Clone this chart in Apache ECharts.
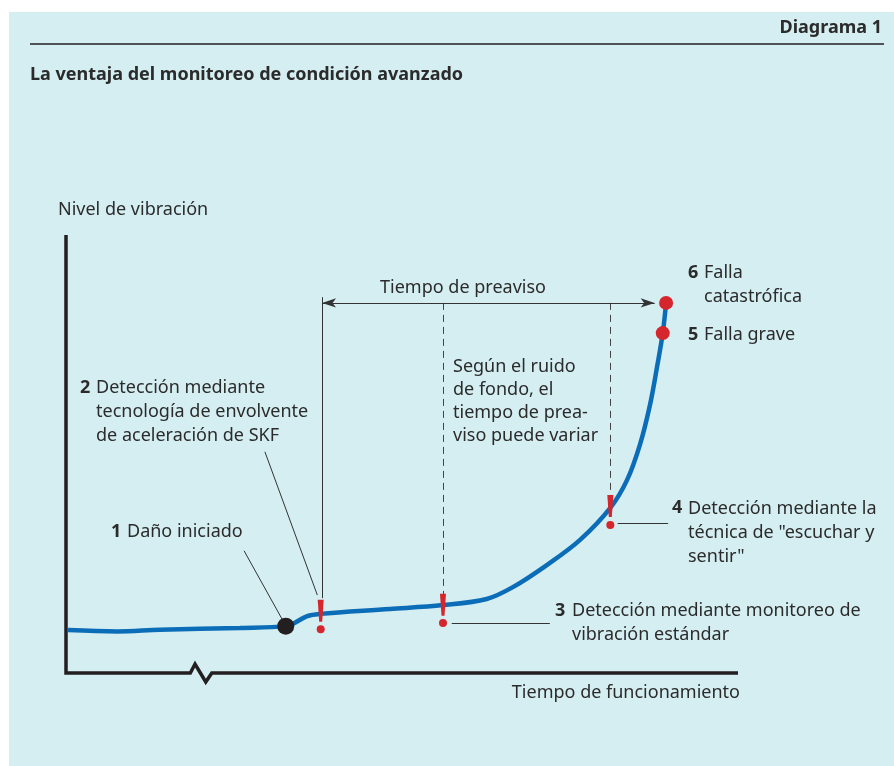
<!DOCTYPE html>
<html>
<head>
<meta charset="utf-8">
<script src="https://cdn.jsdelivr.net/npm/echarts@6/dist/echarts.min.js"></script>
<style>
  html, body { margin: 0; padding: 0; background: #fff; }
  #chart { width: 894px; height: 766px; }
</style>
</head>
<body>
<div id="chart"></div>
<script>
// curva de vibración: [tiempo, nivel] (escala 0-100)
const curva = [
  [0.3, 9.8], [7.6, 9.5], [14, 9.9], [25.9, 10.3], [32.7, 10.7],
  [35.9, 13.0], [37.8, 13.5], [48.2, 14.6], [56.1, 15.5], [62.6, 16.9],
  [66.5, 19.6], [71.6, 24.7], [76.5, 30.4], [81.0, 37.7], [83.5, 44.1],
  [85.4, 52.1], [86.9, 61.2], [88.0, 70.3], [88.8, 77.6], [89.3, 84.5]
];
// ejes con corte en el eje de tiempo
const ejes = [[0, 100], [0, 0], [18.5, 0], [19.2, 2.05], [20.8, -2.05], [21.7, 0], [100, 0]];
const danoIniciado = [[32.7, 10.7]];
const fallas = [[88.8, 77.6], [89.3, 84.5]];
// detecciones (!) : tiempo, nivel de la barra, nivel del punto
const detecciones = [[37.9, 14.2, 10.0], [56.1, 15.6, 11.4], [81.0, 38.1, 33.8]];
const preaviso = { inicio: 38.1, fin: 87.6, nivel: 84.5 };
const guias = [
  [[26.5, 27.9], [32.3, 11.9]],
  [[29.6, 50.5], [37.4, 17.8]],
  [[57.4, 11.4], [72.0, 11.4]],
  [[82.1, 34.2], [89.6, 34.2]]
];
const verticales = [
  { x: 38.1, y1: 85.8, y2: 17.1, dashed: false },
  { x: 56.1, y1: 84.5, y2: 17.8, dashed: true },
  { x: 81.0, y1: 84.5, y2: 40.9, dashed: true }
];

const FONT = 'Noto Sans';
const TXT = '#2b2b2b';

const chart = echarts.init(document.getElementById('chart'));

function texto(x, y, text, opts) {
  return {
    type: 'text', x: x, y: y, silent: true,
    style: Object.assign({
      text: text, fill: TXT, font: '18px "' + FONT + '"',
      verticalAlign: 'middle', align: 'left', lineHeight: 24
    }, opts || {})
  };
}
const bold = (s) => ({ font: 'bold ' + s + 'px "' + FONT + '"' });

const graphics = [
  { type: 'rect', shape: { x: 9, y: 12, width: 885, height: 754 }, style: { fill: '#d5eef2' }, z: -10, silent: true },
  { type: 'line', shape: { x1: 30, y1: 44, x2: 884, y2: 44 }, style: { stroke: '#231f20', lineWidth: 1.5 }, silent: true },
  texto(882, 28, 'Diagrama 1', Object.assign(bold(18), { align: 'right' })),
  texto(30, 75, 'La ventaja del monitoreo de condición avanzado', bold(18)),
  texto(58, 210, 'Nivel de vibración'),
  texto(740, 693, 'Tiempo de funcionamiento', { align: 'right' }),
  texto(463, 288, 'Tiempo de preaviso', { align: 'center' }),
  texto(688, 273, '6', bold(18)),
  texto(704, 285, 'Falla\ncatastrófica'),
  texto(688, 335, '5', bold(18)),
  texto(704, 335, 'Falla grave'),
  texto(80, 388, '2', bold(18)),
  texto(96, 412, 'Detección mediante\ntecnología de envolvente\nde aceleración de SKF'),
  texto(453, 401.5, 'Según el ruido\nde fondo, el\ntiempo de prea-\nviso puede variar', { lineHeight: 23 }),
  texto(111, 532, '1', bold(18)),
  texto(127, 532, 'Daño iniciado'),
  texto(555, 611, '3', bold(18)),
  texto(572, 623, 'Detección mediante monitoreo de\nvibración estándar'),
  texto(672, 508, '4', bold(18)),
  texto(688, 532.5, 'Detección mediante la\ntécnica de "escuchar y\nsentir"')
];

const lineasGuia = guias.map(g => [{ coord: g[0] }, { coord: g[1] }]);
const lineasVert = verticales.map(v => [
  { coord: [v.x, v.y1], lineStyle: { type: v.dashed ? [7, 5] : 'solid', color: v.dashed ? '#444' : '#333', width: 1 } },
  { coord: [v.x, v.y2] }
]);

chart.setOption({
  backgroundColor: '#fff',
  animation: false,
  graphic: graphics,
  grid: { left: 66, right: 156, top: 235, bottom: 93 },
  xAxis: { type: 'value', min: 0, max: 100, show: false },
  yAxis: { type: 'value', min: 0, max: 100, show: false },
  series: [
    {
      name: 'ejes', type: 'line', data: ejes, symbol: 'none', clip: false,
      lineStyle: { color: '#231f20', width: 3.5, join: 'miter' }, z: 3
    },
    {
      name: 'guias', type: 'line', data: [], clip: false,
      markLine: {
        silent: true, symbol: ['none', 'none'], label: { show: false },
        lineStyle: { color: '#333', width: 1, type: 'solid' },
        data: lineasGuia.concat(lineasVert)
      }
    },
    {
      name: 'preaviso', type: 'line', data: [], clip: false,
      markLine: {
        silent: true, symbol: ['arrow', 'arrow'], symbolSize: [7, 14], label: { show: false },
        lineStyle: { color: '#333', width: 1.2, type: 'solid' },
        data: [[{ coord: [preaviso.inicio, preaviso.nivel] }, { coord: [preaviso.fin, preaviso.nivel] }]]
      }
    },
    {
      name: 'vibración', type: 'line', data: curva, smooth: 0.35, symbol: 'none', clip: false,
      lineStyle: { color: '#0b6db7', width: 4.5 }, z: 5
    },
    {
      name: 'daño', type: 'scatter', data: danoIniciado, symbolSize: 17,
      itemStyle: { color: '#231f20', opacity: 1 }, z: 6
    },
    {
      name: 'fallas', type: 'scatter', data: fallas, symbolSize: 14,
      itemStyle: { color: '#d6262d', opacity: 1 }, z: 6
    },
    {
      name: 'excl-barra', type: 'scatter', data: detecciones.map(d => [d[0], d[1]]),
      symbol: 'path://M0,0 L10,0 L7.5,40 L2.5,40 Z', symbolSize: [6, 22], symbolKeepAspect: false,
      itemStyle: { color: '#d6262d', opacity: 1 }, z: 7
    },
    {
      name: 'excl-punto', type: 'scatter', data: detecciones.map(d => [d[0], d[2]]),
      symbolSize: 8, itemStyle: { color: '#d6262d', opacity: 1 }, z: 7
    }
  ]
});
</script>
</body>
</html>
